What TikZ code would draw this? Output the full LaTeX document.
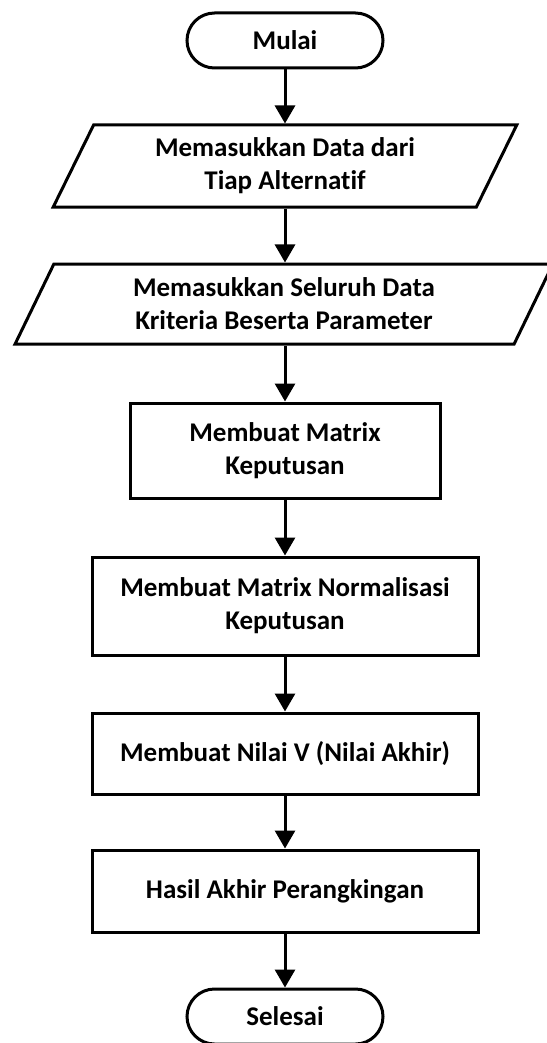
\documentclass[tikz,border=0pt]{standalone}
\usepackage{fontspec}
\setmainfont{Carlito}[Ligatures=NoCommon]
\usetikzlibrary{shapes.geometric,shapes.misc,arrows.meta}
\begin{document}
\begin{tikzpicture}[x=1pt,y=-1pt,
  base/.style={draw=black,line width=3pt,fill=white,align=center,
    font=\fontsize{27}{33}\selectfont\bfseries,inner sep=0pt},
  term/.style={base,rounded rectangle,minimum width=196pt,minimum height=55pt},
  io/.style={base,trapezium,trapezium left angle=64,trapezium right angle=116,
    trapezium stretches=true},
  proc/.style={base,rectangle},
  flow/.style={line width=3pt,-{Triangle[width=20pt,length=18pt]}}]
\useasboundingbox (0,0) rectangle (546,1043);
\node[term] (mulai) at (285,40.5) {Mulai};
\node[io,minimum width=464pt,minimum height=82pt] (in1) at (285,166) {Memasukkan Data dari\\Tiap Alternatif};
\node[io,minimum width=540pt,minimum height=80pt] (in2) at (284,304) {Memasukkan Seluruh Data\\Kriteria Beserta Parameter};
\node[proc,minimum width=310pt,minimum height=95pt] (p1) at (285,450.5) {Membuat Matrix\\Keputusan};
\node[proc,minimum width=386pt,minimum height=98pt] (p2) at (285,606) {Membuat Matrix Normalisasi\\Keputusan};
\node[proc,minimum width=386pt,minimum height=81pt] (p3) at (285,753.5) {Membuat Nilai V (Nilai Akhir)};
\node[proc,minimum width=386pt,minimum height=82pt] (p4) at (285,891) {Hasil Akhir Perangkingan};
\node[term] (selesai) at (285,1016.5) {Selesai};
\draw[flow] (mulai.south) -- (mulai.south |- in1.north);
\draw[flow] (mulai.south |- in1.south) -- (mulai.south |- in2.north);
\draw[flow] (mulai.south |- in2.south) -- (p1.north);
\draw[flow] (p1.south) -- (p2.north);
\draw[flow] (p2.south) -- (p3.north);
\draw[flow] (p3.south) -- (p4.north);
\draw[flow] (p4.south) -- (selesai.north);
\end{tikzpicture}
\end{document}
